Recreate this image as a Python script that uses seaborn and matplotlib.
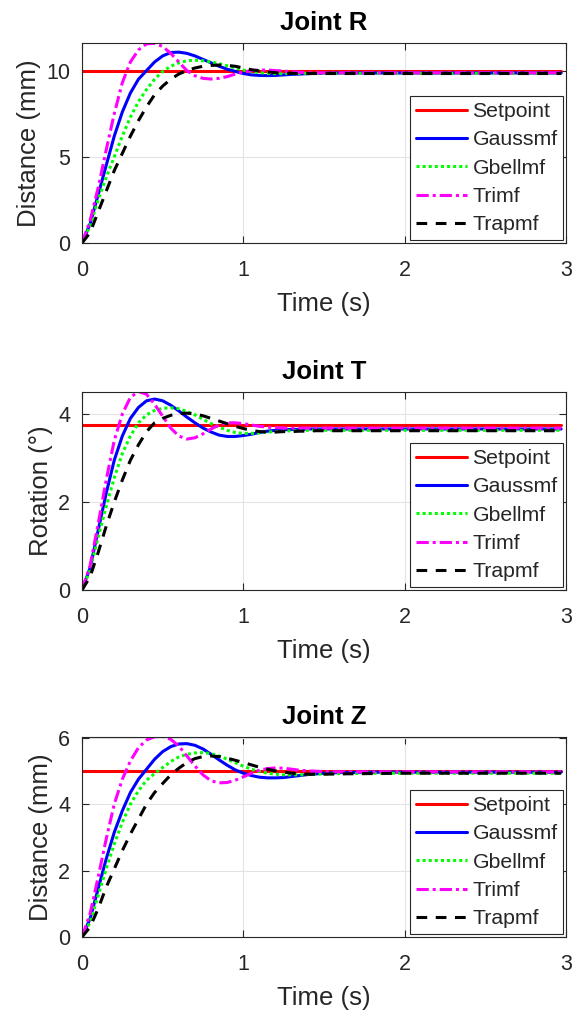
import matplotlib
matplotlib.use("Agg")
import matplotlib.pyplot as plt
import seaborn as sns
import pandas as pd

sns.set_style("ticks")
plt.rcParams['font.family'] = ['Liberation Sans', 'DejaVu Sans']

# ---------------- data ----------------
time = [0.00, 0.05, 0.10, 0.15, 0.20, 0.25, 0.30, 0.35, 0.40, 0.45,
        0.50, 0.55, 0.60, 0.65, 0.70, 0.75, 0.80, 0.85, 0.90, 0.95,
        1.00, 1.05, 1.10, 1.15, 1.20, 1.25, 1.30, 1.35, 1.40, 1.45,
        1.50, 1.60, 1.80, 2.00, 2.50, 2.97]

series_names = ["Setpoint", "Gaussmf", "Gbellmf", "Trimf", "Trapmf"]

# Joint R
setpoint_R = 10.0
gauss_R = [0, 1.1, 2.8, 4.5, 6.2, 7.6, 8.7, 9.5, 10.0, 10.5,
           10.85, 11.05, 11.07, 11.0, 10.85, 10.65, 10.45, 10.25, 10.08, 9.95,
           9.83, 9.75, 9.72, 9.71, 9.72, 9.75, 9.78, 9.8, 9.82, 9.84,
           9.85, 9.86, 9.86, 9.86, 9.86, 9.86]
gbell_R = [0, 1.0, 2.5, 3.8, 5.0, 6.2, 7.3, 8.2, 8.9, 9.5,
           9.95, 10.25, 10.45, 10.57, 10.6, 10.57, 10.5, 10.4, 10.28, 10.15,
           10.03, 9.95, 9.88, 9.84, 9.82, 9.82, 9.83, 9.84, 9.84, 9.84,
           9.84, 9.84, 9.84, 9.84, 9.84, 9.84]
tri_R = [0, 1.3, 3.2, 5.4, 7.5, 9.3, 10.5, 11.2, 11.55, 11.58,
         11.4, 11.0, 10.5, 10.0, 9.7, 9.55, 9.51, 9.55, 9.65, 9.8,
         9.92, 10.0, 10.03, 10.03, 10.0, 9.97, 9.93, 9.9, 9.88, 9.87,
         9.87, 9.87, 9.87, 9.87, 9.87, 9.87]
trap_R = [0, 0.6, 1.8, 3.0, 4.2, 5.2, 6.2, 7.1, 7.9, 8.6,
          9.1, 9.5, 9.8, 10.0, 10.15, 10.25, 10.3, 10.32, 10.3, 10.25,
          10.15, 10.05, 9.98, 9.92, 9.88, 9.85, 9.84, 9.83, 9.83, 9.83,
          9.83, 9.83, 9.83, 9.83, 9.83, 9.83]

# Joint T
setpoint_T = 3.75
gauss_T = [0, 0.5, 1.35, 2.2, 2.95, 3.5, 3.9, 4.15, 4.3, 4.34,
           4.3, 4.2, 4.07, 3.93, 3.8, 3.68, 3.59, 3.52, 3.49, 3.49,
           3.51, 3.54, 3.58, 3.61, 3.63, 3.64, 3.65, 3.65, 3.66, 3.66,
           3.66, 3.66, 3.66, 3.66, 3.66, 3.66]
gbell_T = [0, 0.45, 1.2, 1.9, 2.55, 3.1, 3.5, 3.8, 3.98, 4.08,
           4.13, 4.14, 4.12, 4.06, 3.98, 3.88, 3.78, 3.7, 3.63, 3.58,
           3.56, 3.56, 3.57, 3.59, 3.6, 3.61, 3.62, 3.62, 3.63, 3.63,
           3.63, 3.63, 3.63, 3.63, 3.63, 3.63]
tri_T = [0, 0.55, 1.5, 2.5, 3.4, 4.0, 4.38, 4.51, 4.45, 4.22,
         3.95, 3.68, 3.5, 3.43, 3.46, 3.55, 3.66, 3.75, 3.8, 3.8,
         3.78, 3.75, 3.72, 3.7, 3.69, 3.68, 3.68, 3.68, 3.68, 3.68,
         3.68, 3.68, 3.68, 3.68, 3.68, 3.68]
trap_T = [0, 0.3, 0.85, 1.45, 2.0, 2.5, 2.95, 3.3, 3.6, 3.8,
          3.9, 3.97, 4.01, 4.02, 4.0, 3.96, 3.9, 3.84, 3.78, 3.72,
          3.67, 3.63, 3.6, 3.59, 3.59, 3.6, 3.6, 3.61, 3.61, 3.62,
          3.62, 3.62, 3.62, 3.62, 3.62, 3.62]

# Joint Z
setpoint_Z = 5.0
gauss_Z = [0, 0.55, 1.45, 2.35, 3.15, 3.8, 4.35, 4.75, 5.05, 5.35,
           5.58, 5.73, 5.81, 5.82, 5.77, 5.66, 5.5, 5.33, 5.17, 5.03,
           4.93, 4.86, 4.81, 4.79, 4.79, 4.8, 4.83, 4.86, 4.89, 4.91,
           4.93, 4.95, 4.96, 4.96, 4.96, 4.96]
gbell_Z = [0, 0.45, 1.25, 2.05, 2.8, 3.45, 4.0, 4.4, 4.72, 4.92,
           5.1, 5.28, 5.42, 5.5, 5.54, 5.55, 5.52, 5.45, 5.35, 5.25,
           5.14, 5.05, 4.98, 4.93, 4.9, 4.88, 4.88, 4.88, 4.89, 4.9,
           4.91, 4.92, 4.93, 4.93, 4.93, 4.93]
tri_Z = [0, 0.7, 1.8, 2.95, 4.0, 4.75, 5.3, 5.7, 5.93, 6.03,
         6.04, 5.95, 5.75, 5.45, 5.15, 4.88, 4.7, 4.64, 4.65, 4.72,
         4.82, 4.93, 5.02, 5.07, 5.09, 5.08, 5.05, 5.02, 5.0, 4.99,
         4.98, 4.97, 4.97, 4.97, 4.97, 4.97]
trap_Z = [0, 0.3, 0.85, 1.5, 2.05, 2.6, 3.1, 3.55, 4.0, 4.35,
          4.62, 4.88, 5.08, 5.25, 5.37, 5.43, 5.45, 5.43, 5.38, 5.32,
          5.25, 5.18, 5.11, 5.05, 5.0, 4.96, 4.93, 4.91, 4.9, 4.9,
          4.9, 4.91, 4.92, 4.93, 4.93, 4.93]

titles = ["Joint R", "Joint T", "Joint Z"]
ylabels = ["Distance (mm)", "Rotation (°)", "Distance (mm)"]
yticks = [[0, 5, 10], [0, 2, 4], [0, 2, 4, 6]]
ylims = [(0, 11.6), (0, 4.5), (0, 6.02)]
xticks = [0, 1, 2, 3]

panels = [
    (setpoint_R, gauss_R, gbell_R, tri_R, trap_R),
    (setpoint_T, gauss_T, gbell_T, tri_T, trap_T),
    (setpoint_Z, gauss_Z, gbell_Z, tri_Z, trap_Z),
]

styles = {
    "Setpoint": dict(color="#ff0000", linestyle="-"),
    "Gaussmf": dict(color="#0000ff", linestyle="-"),
    "Gbellmf": dict(color="#00ff00", linestyle=(0, (1, 1))),
    "Trimf": dict(color="#ff00ff", linestyle=(0, (4, 1.3, 1, 1.3))),
    "Trapmf": dict(color="#000000", linestyle=(0, (3.5, 2.8))),
}

# ---------------- figure ----------------
fig = plt.figure(figsize=(5.75, 10.1), dpi=100)
W, H = 575, 1010
boxes = [(43, 243), (392, 590), (737, 937)]
left_px, right_px = 82, 566

txt = "#262626"
for i, (top, bot) in enumerate(boxes):
    ax = fig.add_axes([left_px / W, 1 - bot / H, (right_px - left_px) / W, (bot - top) / H])
    sp, g, gb, tr, tp = panels[i]
    vals = {"Setpoint": [sp] * len(time), "Gaussmf": g, "Gbellmf": gb,
            "Trimf": tr, "Trapmf": tp}
    for name in series_names:
        df = pd.DataFrame({"t": time, "v": vals[name]})
        sns.lineplot(data=df, x="t", y="v", ax=ax, label=name, linewidth=2.2,
                     estimator=None, sort=False, **styles[name])
    ax.set_xlim(0, 3)
    ax.set_ylim(*ylims[i])
    ax.set_xticks(xticks)
    ax.set_yticks(yticks[i])
    ax.grid(True, color="#e3e3e3", linewidth=0.8)
    ax.set_axisbelow(True)
    for s in ax.spines.values():
        s.set_color(txt)
        s.set_linewidth(0.8)
    ax.tick_params(direction="in", length=5, width=0.8, top=True, right=True,
                   labelsize=15.5, colors=txt)
    ax.tick_params(axis="x", pad=12)
    ax.tick_params(axis="y", pad=8.5)
    ax.set_xlabel("Time (s)", fontsize=18.5, color=txt, labelpad=8)
    ax.set_ylabel(ylabels[i], fontsize=18.5, color=txt, labelpad=4)
    ax.set_title(titles[i], fontsize=18.5, fontweight="bold", color="black", pad=9)
    leg = ax.legend(loc="lower right", fontsize=15.3, frameon=True, fancybox=False,
                    framealpha=1, edgecolor=txt, handlelength=2.4,
                    handletextpad=0.25, labelspacing=0.44, borderpad=0.28,
                    borderaxespad=0.12)
    leg.get_frame().set_linewidth(0.8)

fig.savefig("out.png", dpi=100)
